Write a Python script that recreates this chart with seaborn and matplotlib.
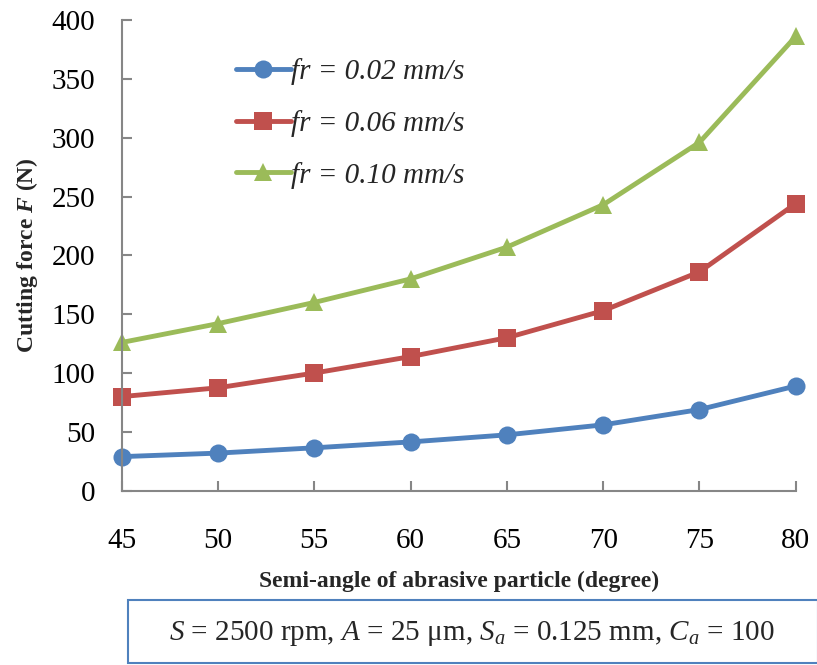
import numpy as np
import pandas as pd
import seaborn as sns
import matplotlib.pyplot as plt
from matplotlib.patches import Rectangle

sns.set_theme(style="white")
plt.rcParams['font.family'] = ['Liberation Serif', 'DejaVu Serif']
plt.rcParams['mathtext.fontset'] = 'custom'
plt.rcParams['mathtext.rm'] = 'Liberation Serif'
plt.rcParams['mathtext.it'] = 'Liberation Serif:italic'
plt.rcParams['mathtext.bf'] = 'Liberation Serif:bold'
plt.rcParams['mathtext.bfit'] = 'Liberation Serif:italic:bold'

angles = [45, 50, 55, 60, 65, 70, 75, 80]
force_002 = [29, 32, 36.5, 41.5, 47.5, 56, 69, 89]
force_006 = [80, 87.5, 100, 114, 130, 153, 186, 244]
force_010 = [126, 142, 160, 180, 207, 243, 296, 386]
series_names = ['fr = 0.02 mm/s', 'fr = 0.06 mm/s', 'fr = 0.10 mm/s']

df = pd.DataFrame({
    'angle': angles * 3,
    'force': force_002 + force_006 + force_010,
    'series': np.repeat(series_names, len(angles)),
})

colors = ['#4F81BD', '#C0504D', '#9BBB59']
markers = ['o', 's', '^']
axis_grey = '#868686'

fig = plt.figure(figsize=(8.17, 6.65), dpi=100)
ax = fig.add_axes([0.149, 0.262, 0.825, 0.708])

sns.lineplot(data=df, x='angle', y='force', hue='series', style='series',
             palette=colors, markers=markers, dashes=False, linewidth=3.5,
             markersize=13, markeredgewidth=0, ax=ax)

ax.set_xlim(45, 80)
ax.set_ylim(0, 400)
ax.set_xticks(angles)
ax.set_yticks(range(0, 401, 50))
ax.tick_params(axis='both', labelsize=21, labelcolor='black', color=axis_grey,
               length=7, width=1.5, direction='in', left=True, bottom=True)
ax.tick_params(axis='y', pad=19)
ax.tick_params(axis='x', pad=27)
for side in ['top', 'right']:
    ax.spines[side].set_visible(False)
for side in ['left', 'bottom']:
    ax.spines[side].set_color(axis_grey)
    ax.spines[side].set_linewidth(1.5)
for line in ax.lines:
    line.set_clip_on(False)

ax.set_xlabel('Semi-angle of abrasive particle (degree)', fontsize=17,
              fontweight='bold', labelpad=12)
ax.set_ylabel(r'Cutting force $\mathbfit{F}$ (N)', fontsize=17,
              fontweight='bold', labelpad=8)

handles, labels = ax.get_legend_handles_labels()
ax.legend(handles, labels, loc='upper left', bbox_to_anchor=(0.13, 0.975),
          frameon=False, handlelength=1.9, handletextpad=0.0,
          labelspacing=0.85, prop={'size': 21, 'style': 'italic'})

fig.patches.append(Rectangle((128 / 817, 1 - 663 / 665), 690 / 817, 63 / 665,
                             transform=fig.transFigure, fill=False,
                             edgecolor='#4F81BD', linewidth=1.5))
fig.text(472 / 817, 1 - 633 / 665,
         r'$S$ = 2500 rpm, $A$ = 25 μm, $S_a$ = 0.125 mm, $C_a$ = 100',
         ha='center', va='center', fontsize=21)

fig.savefig('out.png', dpi=100)
